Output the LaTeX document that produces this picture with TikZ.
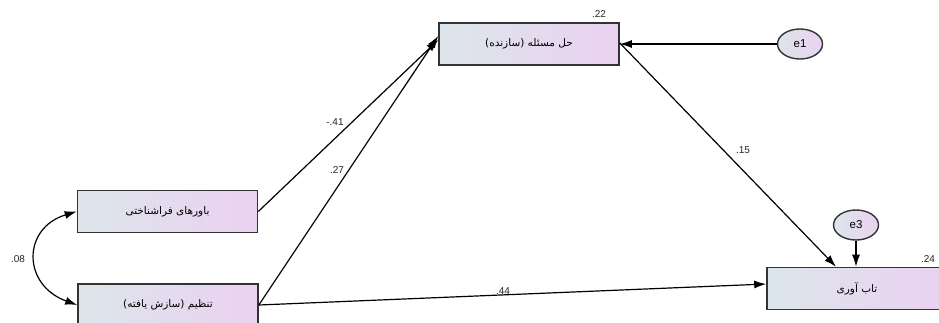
\documentclass[tikz,border=0pt]{standalone}
\usepackage{fontspec}
\setmainfont{Liberation Sans}
\newfontfamily\arabicfont[Script=Arabic]{DejaVu Sans}
\TeXXeTstate=1
\usetikzlibrary{arrows.meta,shapes.geometric}
\newcommand{\fa}[1]{{\arabicfont\fontsize{10.5}{12}\selectfont\beginR #1\endR}}
\definecolor{gleft}{HTML}{DCE6EB}
\definecolor{gright}{HTML}{EBD1F1}
\definecolor{edgec}{HTML}{333333}
\tikzset{
  box/.style={draw=edgec, line width=1.6pt, left color=gleft, right color=gright,
    minimum width=180pt, minimum height=42pt, inner sep=0pt},
  err/.style={ellipse, draw=edgec, line width=1.4pt, left color=gleft, right color=gright,
    minimum width=45pt, minimum height=30pt, inner sep=0pt, font=\fontsize{11.5}{13}\selectfont},
  arr/.style={line width=1.2pt, -{Latex[length=12pt,width=8pt]}},
  coef/.style={font=\fontsize{10}{12}\selectfont, text=black!85, inner sep=0pt}
}
\begin{document}
\begin{tikzpicture}[x=1pt,y=-1pt]
\useasboundingbox[fill=white] (0,0) rectangle (939,322);
\begin{scope}
\clip (0,0) rectangle (939,322);
\node[box] (ps) at (529,44) {\fa{حل مسئله (سازنده)}};
\node[box] (mb) at (167.5,211.5) {\fa{باورهای فراشناختی}};
\node[box] (rg) at (168,305) {\fa{تنظیم (سازش یافته)}};
\node[box] (res) at (857,288.5) {\fa{تاب آوری}};
\node[err] (e1) at (800,44) {e1};
\node[err] (e3) at (856,225) {e3};

\draw[arr] (e1) -- (ps.east);
\draw[arr] ([yshift=1pt]ps.east) -- ([xshift=-21pt]res.north);
\draw[arr] (e3.south) -- (e3.south |- res.north);
\draw[arr] (mb.east) -- ([yshift=4pt]ps.west);
\draw[arr] (rg.east) -- ([yshift=8pt]ps.west);
\draw[arr] (rg.east) -- ([yshift=4.5pt]res.west);
\draw[line width=1.2pt, {Latex[length=12pt,width=8pt]}-{Latex[length=12pt,width=8pt]}]
  (mb.west) .. controls (22,228) and (22,285) .. (rg.west);

\node[coef] (c1) at (335,122) {-.41};
\node[coef] (c2) at (337,170) {.27};
\node[coef] (c3) at (743,150) {.15};
\node[coef] (c4) at (503,291) {.44};
\node[coef] (c5) at (18,259) {.08};
\node[coef] (c6) at (599,14) {.22};
\node[coef] (c7) at (928,259) {.24};
\end{scope}
\end{tikzpicture}
\end{document}
